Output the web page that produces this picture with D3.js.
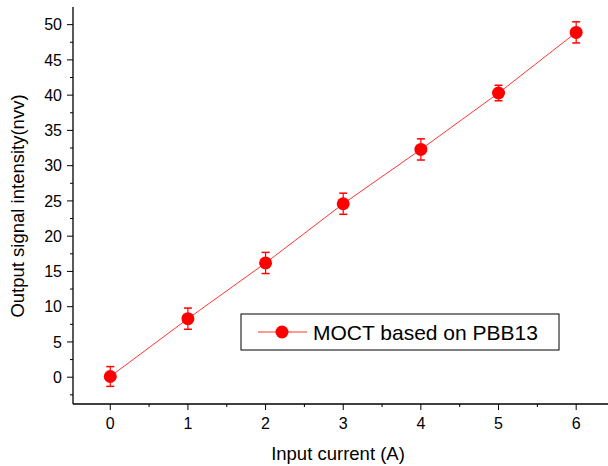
<!DOCTYPE html>
<html>
<head>
<meta charset="utf-8">
<script src="https://cdn.jsdelivr.net/npm/d3@7"></script>
<style>
  body { margin: 0; background: #fff; }
  svg text { font-family: "Liberation Sans", Arial, Helvetica, sans-serif; }
</style>
</head>
<body>
<svg id="chart" width="608" height="466"></svg>
<script>
// data
var current = [0, 1, 2, 3, 4, 5, 6];
var intensity = [0.1, 8.3, 16.2, 24.6, 32.3, 40.3, 48.9];
var err = [1.4, 1.5, 1.5, 1.5, 1.5, 1.1, 1.5];
var xTicks = [0, 1, 2, 3, 4, 5, 6];
var yTicks = [0, 5, 10, 15, 20, 25, 30, 35, 40, 45, 50];
var seriesName = "MOCT based on PBB13";

var red = "#ff0000";
var svg = d3.select("#chart");

var x = d3.scaleLinear().domain([-0.48, 6.5]).range([73, 615]);
var y = d3.scaleLinear().domain([-3.8, 52.5]).range([404, 7]);

// axis lines (left and bottom only)
svg.append("line").attr("x1", 73).attr("x2", 73).attr("y1", y(52.5)).attr("y2", 404)
    .attr("stroke", "#000").attr("stroke-width", 1.3);
svg.append("line").attr("x1", 73).attr("x2", 608).attr("y1", 404).attr("y2", 404)
    .attr("stroke", "#000").attr("stroke-width", 1.3);

// y ticks
var yMinor = d3.range(-2.5, 52.5, 2.5);
svg.selectAll(".ymin").data(yMinor).enter().append("line")
    .attr("x1", 73).attr("x2", d => yTicks.includes(d) ? 67 : 70)
    .attr("y1", d => y(d)).attr("y2", d => y(d))
    .attr("stroke", "#000").attr("stroke-width", 1);
svg.selectAll(".ylab").data(yTicks).enter().append("text")
    .attr("x", 62).attr("y", d => y(d)).attr("dy", "0.36em")
    .attr("text-anchor", "end").attr("font-size", 16).text(d => d);

// x ticks
var xMinor = d3.range(0, 6.51, 0.5);
svg.selectAll(".xmin").data(xMinor).enter().append("line")
    .attr("y1", 404).attr("y2", d => xTicks.includes(d) ? 410 : 407)
    .attr("x1", d => x(d)).attr("x2", d => x(d))
    .attr("stroke", "#000").attr("stroke-width", 1);
svg.selectAll(".xlab").data(xTicks).enter().append("text")
    .attr("x", d => x(d)).attr("y", 429)
    .attr("text-anchor", "middle").attr("font-size", 16).text(d => d);

// axis titles
svg.append("text").attr("x", 338).attr("y", 460).attr("text-anchor", "middle")
    .attr("font-size", 18.5).text("Input current (A)");
svg.append("text").attr("transform", "translate(24,206) rotate(-90)")
    .attr("text-anchor", "middle").attr("font-size", 18.5).text("Output signal intensity(nvv)");

var pts = current.map((c, i) => ({ x: c, y: intensity[i], e: err[i] }));

// line
svg.append("path").datum(pts)
    .attr("d", d3.line().x(d => x(d.x)).y(d => y(d.y)))
    .attr("fill", "none").attr("stroke", red).attr("stroke-width", 1).attr("opacity", 0.8);

// error bars
var eb = svg.selectAll(".eb").data(pts).enter().append("g");
eb.append("line").attr("x1", d => x(d.x)).attr("x2", d => x(d.x))
    .attr("y1", d => y(d.y + d.e)).attr("y2", d => y(d.y - d.e))
    .attr("stroke", red).attr("stroke-width", 1.2);
eb.append("line").attr("x1", d => x(d.x) - 4).attr("x2", d => x(d.x) + 4)
    .attr("y1", d => y(d.y + d.e)).attr("y2", d => y(d.y + d.e))
    .attr("stroke", red).attr("stroke-width", 1.5);
eb.append("line").attr("x1", d => x(d.x) - 4).attr("x2", d => x(d.x) + 4)
    .attr("y1", d => y(d.y - d.e)).attr("y2", d => y(d.y - d.e))
    .attr("stroke", red).attr("stroke-width", 1.5);

// markers
svg.selectAll(".pt").data(pts).enter().append("circle")
    .attr("cx", d => x(d.x)).attr("cy", d => y(d.y)).attr("r", 6.5)
    .attr("fill", red);

// legend
var lg = svg.append("g");
lg.append("rect").attr("x", 241).attr("y", 314).attr("width", 318).attr("height", 36)
    .attr("fill", "#fff").attr("stroke", "#000").attr("stroke-width", 1);
lg.append("line").attr("x1", 258).attr("x2", 307).attr("y1", 332).attr("y2", 332)
    .attr("stroke", red).attr("stroke-width", 1).attr("opacity", 0.8);
lg.append("circle").attr("cx", 282).attr("cy", 332).attr("r", 6.5).attr("fill", red);
lg.append("text").attr("x", 313).attr("y", 332).attr("dy", "0.36em")
    .attr("font-size", 21).text(seriesName);
</script>
</body>
</html>
